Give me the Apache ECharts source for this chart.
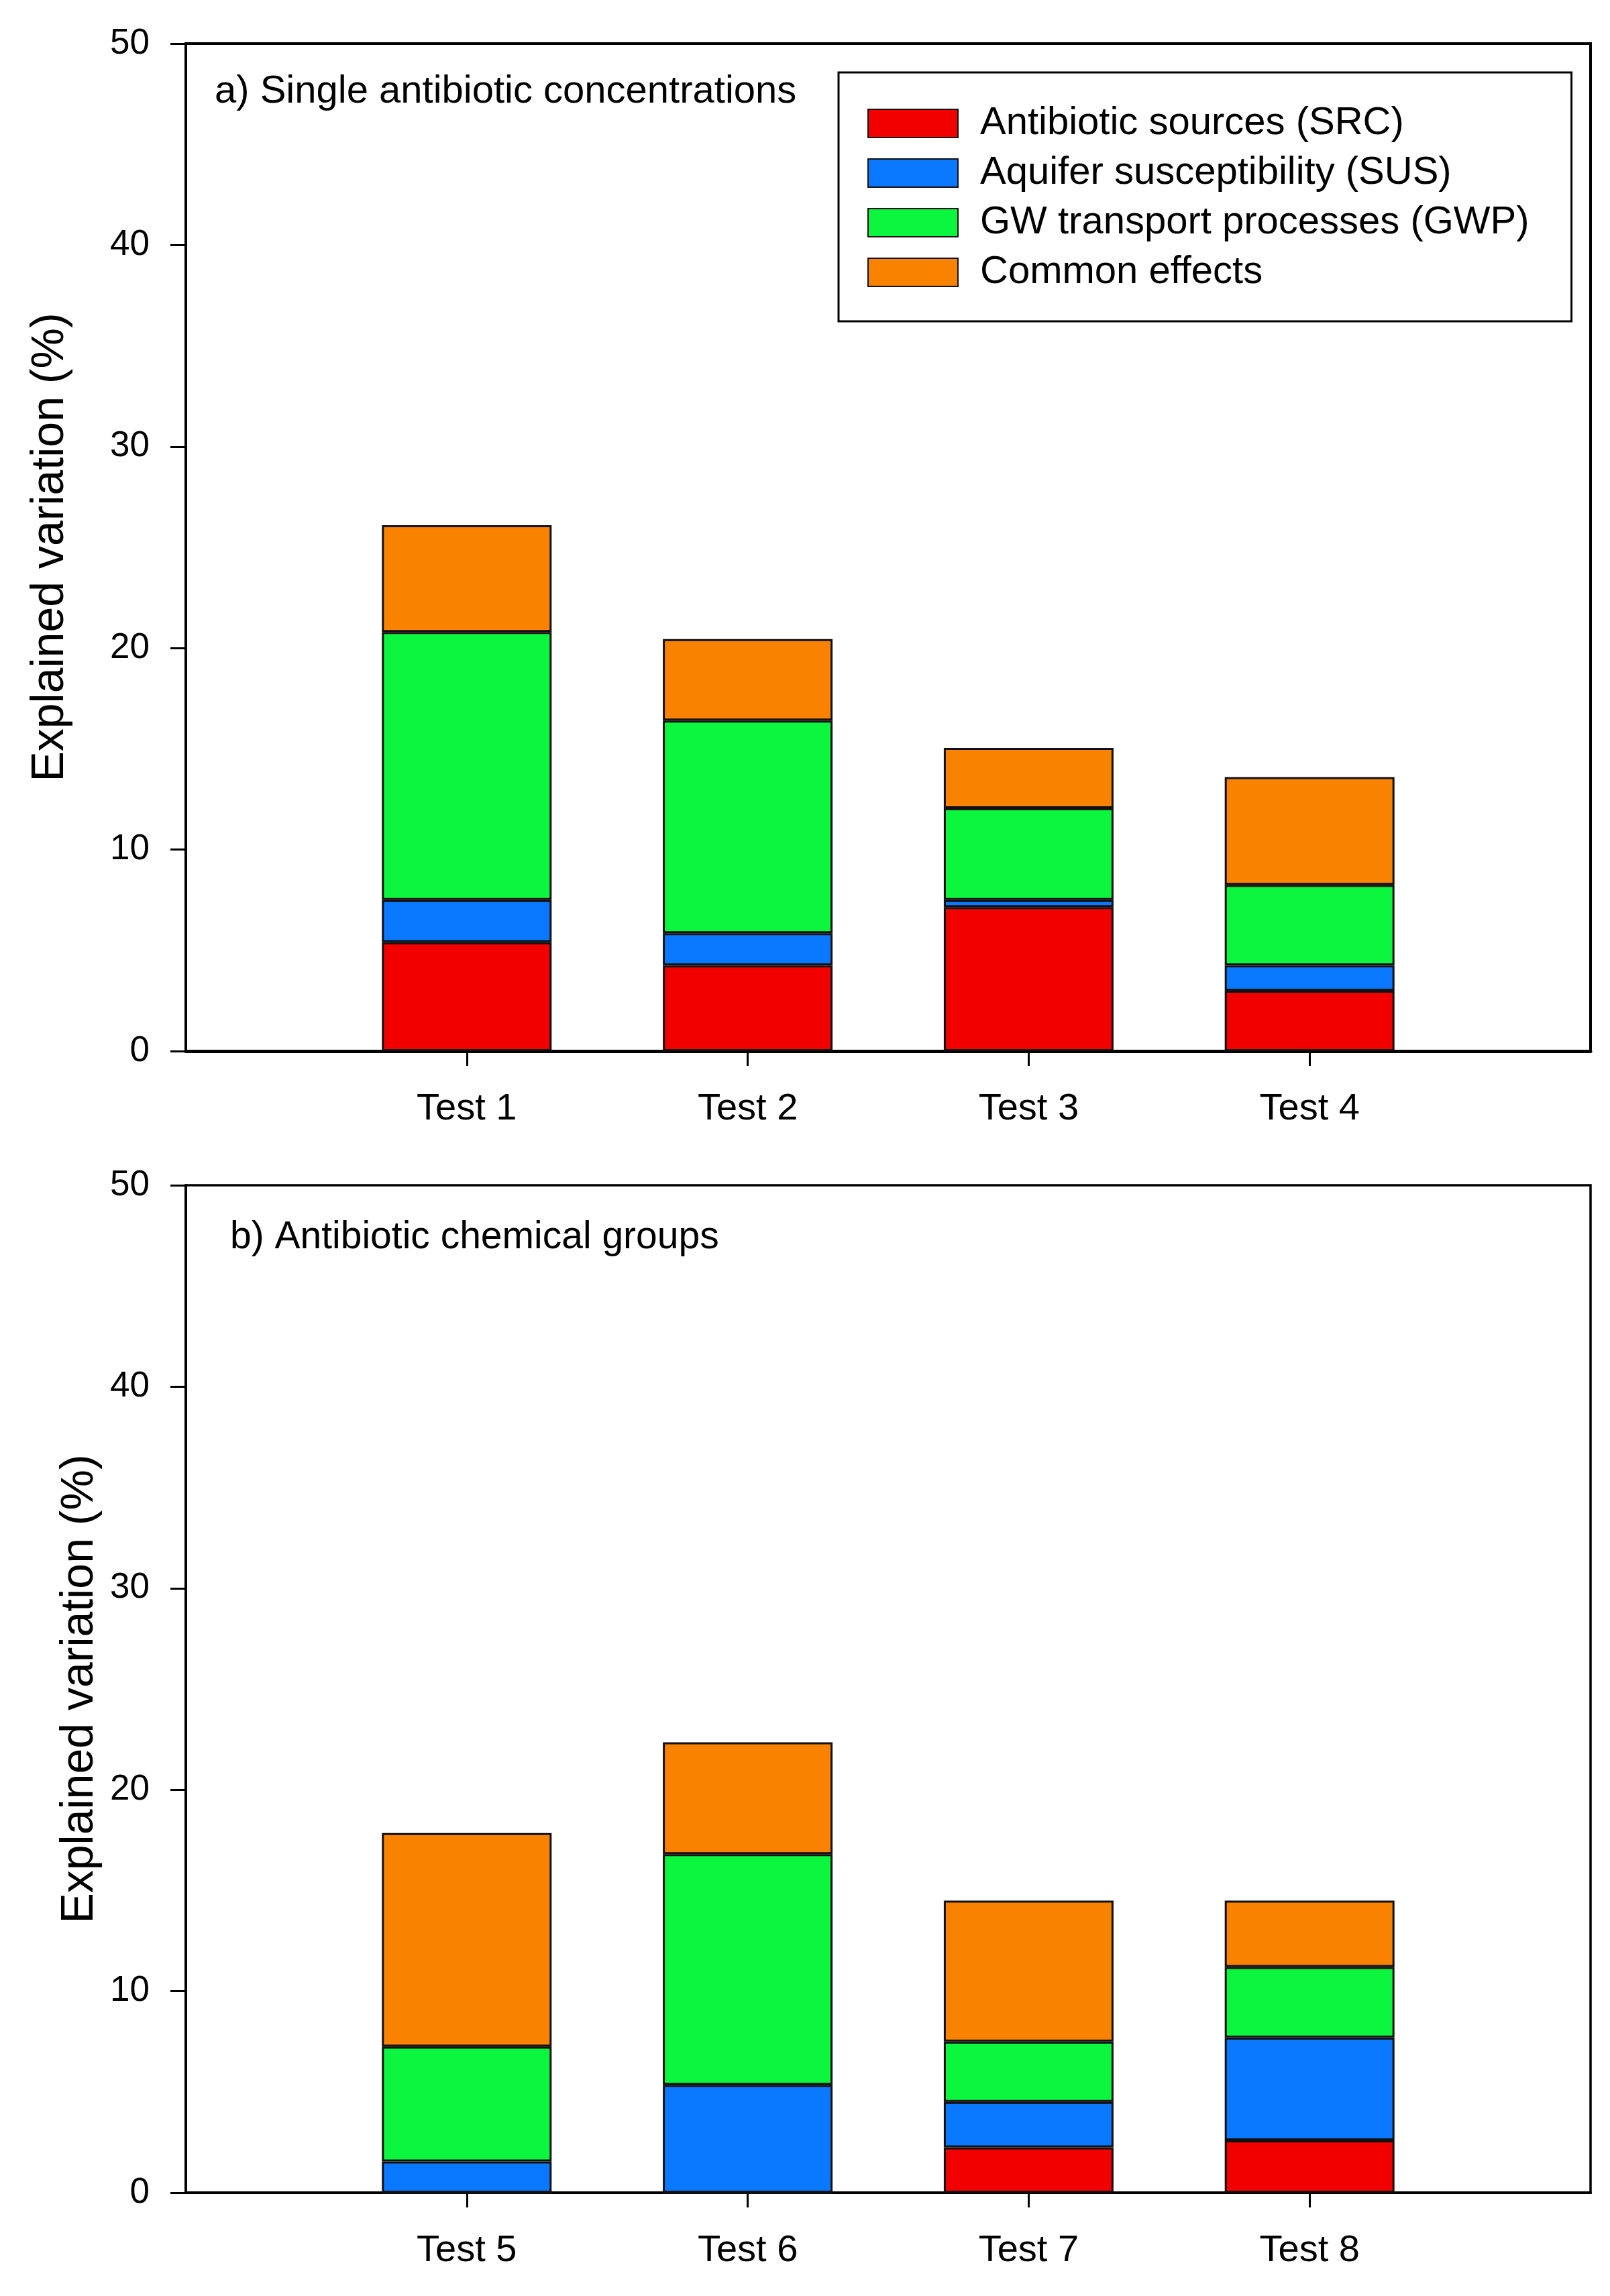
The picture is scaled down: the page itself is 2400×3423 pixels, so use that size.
<!DOCTYPE html>
<html>
<head>
<meta charset="utf-8">
<script src="https://cdn.jsdelivr.net/npm/echarts@6/dist/echarts.min.js"></script>
<style>
html,body{margin:0;padding:0;background:#fff;}
#chart{width:2400px;height:3423px;}
</style>
</head>
<body>
<div id="chart"></div>
<script>
// ---- data ----
var categoriesA = ['Test 1', 'Test 2', 'Test 3', 'Test 4'];
var categoriesB = ['Test 5', 'Test 6', 'Test 7', 'Test 8'];
var seriesNames = ['Antibiotic sources (SRC)', 'Aquifer susceptibility (SUS)', 'GW transport processes (GWP)', 'Common effects'];
var srcA = [5.4, 4.25, 7.15, 3.0];
var susA = [2.1, 1.6, 0.35, 1.25];
var gwpA = [13.3, 10.55, 4.55, 4.0];
var comA = [5.3, 4.05, 3.0, 5.35];
var srcB = [0, 0, 2.25, 2.6];
var susB = [1.55, 5.35, 2.25, 5.1];
var gwpB = [5.7, 11.45, 3.0, 3.5];
var comB = [10.6, 5.55, 7.0, 3.3];
var yTicks = [0, 10, 20, 30, 40, 50];
var titleA = 'a) Single antibiotic concentrations';
var titleB = 'b) Antibiotic chemical groups';
var yName = 'Explained variation (%)';

// ---- styling ----
var colors = ['#F20000', '#0A78FF', '#0CF53F', '#F98300'];
var FONT = '"Liberation Sans", Arial, Helvetica, sans-serif';

function pad(arr) { return [null].concat(arr).concat([null]); }
function padCat(arr) { return [''].concat(arr).concat(['']); }

function xAxis(cats, gridIndex, lineW) {
  return {
    type: 'category', gridIndex: gridIndex, data: padCat(cats), boundaryGap: false,
    axisLine: { show: true, lineStyle: { color: '#000', width: lineW } },
    axisTick: { show: true, length: 22, lineStyle: { color: '#000', width: 3 },
      interval: function (i) { return i > 0 && i < cats.length + 1; } },
    axisLabel: { show: true, margin: 59, fontSize: 56, color: '#000', fontFamily: FONT,
      interval: function (i) { return i > 0 && i < cats.length + 1; } },
    splitLine: { show: false }
  };
}
function yAxis(gridIndex, nameGap) {
  return {
    type: 'value', gridIndex: gridIndex, min: yTicks[0], max: yTicks[yTicks.length - 1], interval: 10,
    name: yName, nameLocation: 'middle', nameGap: nameGap,
    nameTextStyle: { fontSize: 68, color: '#000', fontFamily: FONT },
    axisLine: { show: true, lineStyle: { color: '#000', width: 4 } },
    axisTick: { show: true, length: 23, lineStyle: { color: '#000', width: 3 } },
    axisLabel: { margin: 54, fontSize: 53, color: '#000', fontFamily: FONT },
    splitLine: { show: false }
  };
}
var groups = [
  [srcA, susA, gwpA, comA],
  [srcB, susB, gwpB, comB]
];
var series = [];
groups.forEach(function (g, gi) {
  g.forEach(function (vals, si) {
    series.push({
      type: 'bar', name: seriesNames[si], stack: 'panel' + gi,
      xAxisIndex: gi, yAxisIndex: gi, barWidth: 253,
      data: pad(vals),
      itemStyle: { color: colors[si], borderColor: '#111', borderWidth: 3 },
      emphasis: { disabled: true }
    });
  });
});

var chart = echarts.init(document.getElementById('chart'), null, { renderer: 'canvas' });
chart.setOption({
  animation: false,
  backgroundColor: '#fff',
  textStyle: { fontFamily: FONT },
  title: [
    { text: titleA, left: 320, top: 108, padding: 0, textStyle: { fontSize: 58, fontWeight: 'normal', color: '#000', fontFamily: FONT } },
    { text: titleB, left: 343, top: 1817, padding: 0, textStyle: { fontSize: 57, fontWeight: 'normal', color: '#000', fontFamily: FONT } }
  ],
  legend: {
    data: seriesNames, orient: 'vertical', left: 1250, top: 108,
    icon: 'rect', itemWidth: 134, itemHeight: 42, itemGap: 16,
    padding: [47, 63, 44, 43],
    borderColor: '#000', borderWidth: 3, backgroundColor: '#fff',
    selectedMode: false,
    textStyle: { fontSize: 58, color: '#000', fontFamily: FONT, padding: [0, 0, 0, 28] }
  },
  grid: [
    { left: 277, right: 29, top: 65, height: 1502, show: true, borderColor: '#000', borderWidth: 4, backgroundColor: 'transparent' },
    { left: 277, right: 29, top: 1767, height: 1502, show: true, borderColor: '#000', borderWidth: 3.5, backgroundColor: 'transparent' }
  ],
  xAxis: [xAxis(categoriesA, 0, 5), xAxis(categoriesB, 1, 4)],
  yAxis: [yAxis(0, 168), yAxis(1, 118)],
  series: series
});
</script>
</body>
</html>
